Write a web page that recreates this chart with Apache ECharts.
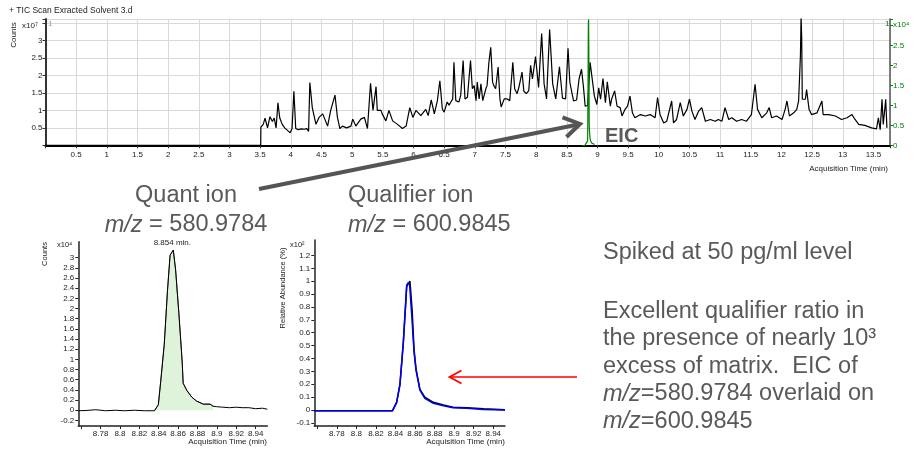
<!DOCTYPE html>
<html><head><meta charset="utf-8">
<script src="https://cdn.jsdelivr.net/npm/echarts@6/dist/echarts.min.js"></script>
<style>html,body{margin:0;padding:0;background:#fff}#c{width:918px;height:452px}</style>
</head><body><div id="c"></div>
<script>
// ---------- DATA ----------
// TIC scan (x10^7 counts) vs acquisition time (min)
const ticPoints = [
  [0,0],[3.509,0],[3.512,0.52],[3.55,0.6],[3.58,0.78],[3.62,0.5],[3.66,0.82],[3.70,0.68],[3.73,0.78],[3.76,0.5],
  [3.79,1.22],[3.82,0.78],[3.86,0.6],[3.90,0.5],[3.95,0.42],[3.99,0.36],[4.02,0.48],[4.05,1.55],[4.08,0.48],[4.12,0.45],
  [4.17,0.47],[4.22,0.46],[4.26,0.48],[4.29,0.4],[4.31,1.8],[4.35,1.08],[4.41,0.6],[4.46,0.8],[4.52,0.9],[4.60,0.55],
  [4.65,1.0],[4.72,1.44],[4.76,0.8],[4.80,0.48],[4.84,0.55],[4.91,0.5],[4.98,0.55],[5.01,0.75],[5.06,0.55],[5.14,0.75],
  [5.20,0.8],[5.25,0.48],[5.30,1.78],[5.34,1.0],[5.39,1.68],[5.41,1.0],[5.47,1.0],[5.49,0.9],[5.55,0.7],[5.60,1.0],
  [5.66,0.7],[5.74,0.6],[5.82,0.48],[5.88,0.55],[5.94,1.08],[5.99,0.8],[6.04,1.0],[6.12,0.85],[6.20,1.03],[6.24,0.85],
  [6.29,1.3],[6.34,0.9],[6.39,1.28],[6.43,1.85],[6.47,1.05],[6.50,0.95],[6.55,1.24],[6.58,1.15],[6.61,1.24],[6.64,1.33],
  [6.66,2.38],[6.69,1.28],[6.72,1.33],[6.74,1.24],[6.77,1.43],[6.81,2.43],[6.84,1.33],[6.88,1.38],[6.93,2.43],[6.96,1.62],
  [6.99,1.71],[7.02,1.28],[7.04,1.81],[7.07,1.33],[7.10,1.76],[7.13,1.28],[7.15,1.26],[7.18,1.62],[7.20,1.71],[7.23,2.38],
  [7.26,2.81],[7.29,1.81],[7.31,1.71],[7.34,1.62],[7.38,2.24],[7.41,1.33],[7.43,1.1],[7.48,1.33],[7.53,1.33],[7.57,1.28],
  [7.62,2.38],[7.65,1.62],[7.69,1.48],[7.72,1.67],[7.77,2.1],[7.80,1.55],[7.84,1.48],[7.88,1.57],[7.91,2.29],[7.94,1.9],
  [7.99,2.54],[8.04,1.66],[8.09,3.2],[8.13,1.76],[8.17,1.33],
  [8.22,3.32],[8.27,1.76],[8.32,1.33],[8.38,2.25],[8.43,1.35],[8.48,1.33],[8.52,2.78],[8.55,1.8],[8.61,1.27],[8.66,1.3],
  [8.70,1.9],[8.74,2.18],[8.77,1.7],[8.80,1.12],[8.84,1.14],[8.88,2.38],[8.91,2.33],[8.95,1.41],[8.99,1.17],[9.02,1.65],
  [9.05,1.32],[9.09,1.91],[9.13,1.22],[9.16,1.82],[9.21,1.12],[9.23,1.32],[9.28,1.56],[9.32,1.12],[9.37,1.08],[9.40,0.84],
  [9.45,1.03],[9.49,1.12],[9.53,1.41],[9.57,0.93],[9.61,0.79],[9.70,0.88],[9.78,0.84],[9.86,0.88],[9.94,0.79],[9.98,1.37],
  [10.02,0.88],[10.08,0.64],[10.13,0.69],[10.21,1.27],[10.24,0.64],[10.29,0.74],[10.35,1.22],[10.40,0.84],[10.46,1.03],[10.50,1.32],
  [10.54,0.98],[10.59,0.74],[10.65,0.98],[10.70,1.08],[10.76,0.69],[10.84,0.74],[10.92,0.69],[10.97,0.74],[11.03,0.69],[11.08,1.08],
  [11.14,0.74],[11.19,0.79],[11.27,0.69],[11.35,0.74],[11.43,0.69],[11.51,0.88],[11.57,1.75],[11.61,1.03],[11.68,0.79],[11.76,0.93],
  [11.80,1.08],[11.84,0.79],[11.92,0.84],[12.01,0.74],[12.06,1.03],[12.09,1.27],[12.13,0.84],[12.20,0.93],[12.25,1.03],[12.28,1.27],
  [12.31,2.6],[12.32,3.7],[12.33,3.1],[12.34,1.32],[12.39,1.32],[12.41,1.6],[12.45,1.03],[12.49,0.88],[12.58,0.93],[12.66,1.27],
  [12.68,0.88],[12.77,0.88],[12.88,0.84],[12.98,0.74],[13.07,0.79],[13.15,0.88],[13.20,0.74],[13.26,0.6],[13.36,0.57],[13.47,0.5],
  [13.55,0.47],[13.58,0.79],[13.61,0.45],[13.64,1.32],[13.66,0.6],[13.70,1.32],[13.72,0.5]
];
// EIC m/z 580.9784 (x10^4 counts)
const eicPoints = [
  [8.757,-0.01],[8.765,-0.005],[8.775,0.01],[8.785,-0.01],[8.795,0.0],[8.805,-0.01],[8.815,0.0],[8.825,-0.01],
  [8.8356,-0.01],[8.8396,0.11],[8.842,0.56],[8.8457,1.3],[8.849,2.35],[8.8517,3.05],[8.855,3.15],[8.8574,2.76],
  [8.8608,1.9],[8.8642,0.95],[8.8652,0.53],[8.869,0.39],[8.874,0.26],[8.879,0.18],[8.886,0.12],[8.893,0.12],
  [8.896,0.08],[8.8995,0.07],[8.906,0.06],[8.913,0.05],[8.92,0.06],[8.926,0.05],[8.933,0.05],[8.94,0.03],[8.947,0.04],[8.952,0.02]
];
const eicFillRange = [8.8356, 8.896];
const peakLabel = '8.854 min.';
const peakPoint = [8.854, 3.15];
// Relative abundance (x10^2 %) overlay
const quantOverlayPoints = [
  [8.757,-0.005],[8.837,-0.005],[8.8412,0.06],[8.8446,0.2],[8.848,0.52],[8.8515,0.96],[8.8535,0.97],[8.8548,1.0],
  [8.857,0.78],[8.859,0.47],[8.861,0.32],[8.865,0.16],[8.87,0.1],[8.8787,0.06],[8.889,0.04],[8.8988,0.022],
  [8.913,0.018],[8.93,0.01],[8.952,0.002]
];
const qualifierPoints = [
  [8.757,-0.005],[8.78,-0.005],[8.80,-0.005],[8.82,-0.005],[8.837,-0.005],[8.8412,0.06],[8.8446,0.2],[8.848,0.52],
  [8.8515,0.97],[8.853,0.99],[8.8545,0.97],[8.8566,0.74],[8.859,0.45],[8.861,0.31],[8.865,0.155],[8.87,0.09],
  [8.8787,0.052],[8.889,0.033],[8.8988,0.018],[8.9128,0.013],[8.9298,0.005],[8.952,0.0]
];
// Tick values
const zoomXTicks = [8.76,8.78,8.8,8.82,8.84,8.86,8.88,8.9,8.92,8.94];
const zoomXLabels = [8.78,8.8,8.82,8.84,8.86,8.88,8.9,8.92,8.94];
const countsYLabels = [-0.2,0,0.2,0.4,0.6,0.8,1,1.2,1.4,1.6,1.8,2,2.2,2.4,2.6,2.8,3];
const relYLabels = [-0.1,0,0.1,0.2,0.3,0.4,0.5,0.6,0.7,0.8,0.9,1,1.1,1.2];

// ---------- CHART ----------
const FONT = "'Liberation Sans', Arial, sans-serif";
const GREY = '#595959';
const chart = echarts.init(document.getElementById('c'), null, {renderer:'canvas'});
const isHalf = v => Math.abs(v*2 - Math.round(v*2)) < 1e-6;
const smallLbl = {fontSize:8, color:'#222', fontFamily:FONT};

function txt(x, y, text, o) {
  o = o || {};
  return {
    type:'text', x:x, y:y, rotation:o.rot||0, z:50, silent:true,
    style:Object.assign({
      text:text, fill:o.fill||'#222', fontSize:o.size||8, fontFamily:FONT,
      fontWeight:o.weight||'normal', fontStyle:o.style||'normal',
      align:o.align||'left', textAlign:o.align||'left',
      verticalAlign:'middle', textVerticalAlign:'middle'
    }, o.rich ? {rich:o.rich} : {})
  };
}
function mz(x, y, rest, size, align) {
  const base = {fontSize:size, fontFamily:FONT, fill:GREY};
  return txt(x, y, '{i|m/z}{n|' + rest + '}', {align:align, size:size, fill:GREY,
    rich:{i:Object.assign({fontStyle:'italic'}, base), n:Object.assign({}, base)}});
}

const bigSize = 23.5;
const graphics = [
  txt(9, 11, '+ TIC Scan Exracted Solvent 3.d', {size:8.5}),
  txt(14, 35, 'Counts', {rot:Math.PI/2, align:'center'}),
  txt(22, 26, 'x10\u2077', {size:8}),
  txt(48, 24, '1', {size:8, fill:'#999'}),
  txt(885, 24, '1', {size:8, fill:'#008000'}),
  txt(893, 25, 'x10\u2074', {size:8, fill:'#008000'}),
  txt(888, 169, 'Acquisition Time (min)', {align:'right'}),
  txt(45, 254, 'Counts', {rot:Math.PI/2, align:'center', size:7.5}),
  txt(57, 245, 'x10\u2074', {size:7.5}),
  txt(267, 442, 'Acquisition Time (min)', {align:'right'}),
  txt(283, 288, 'Relative Abundance (%)', {rot:Math.PI/2, align:'center', size:7.5}),
  txt(290, 245, 'x10\u00b2', {size:7.5}),
  txt(505, 442, 'Acquisition Time (min)', {align:'right'}),
  txt(186, 196, 'Quant ion', {align:'center', size:bigSize, fill:GREY}),
  mz(186, 225, ' = 580.9784', bigSize, 'center'),
  txt(348, 196, 'Qualifier ion', {size:bigSize, fill:GREY}),
  mz(348, 225, ' = 600.9845', bigSize, 'left'),
  txt(603, 253, 'Spiked at 50 pg/ml level', {size:bigSize, fill:GREY}),
  txt(603, 311.5, 'Excellent qualifier ratio in', {size:bigSize, fill:GREY}),
  txt(603, 339, 'the presence of nearly 10\u00b3', {size:bigSize, fill:GREY}),
  txt(603, 366.5, 'excess of matrix.  EIC of', {size:bigSize, fill:GREY}),
  mz(603, 394, '=580.9784 overlaid on', bigSize, 'left'),
  mz(603, 421.5, '=600.9845', bigSize, 'left'),
  txt(605, 136, 'EIC', {size:20, weight:'bold', fill:GREY}),
  // grey arrow
  {type:'line', z:40, silent:true, shape:{x1:259, y1:189, x2:578, y2:124.5},
   style:{stroke:'#555', lineWidth:4, lineCap:'butt'}},
  {type:'polyline', z:40, silent:true, shape:{points:[[562.5,117.4],[580,124],[566.5,137]]},
   style:{stroke:'#555', lineWidth:4, fill:null, lineJoin:'miter'}},
  // red arrow
  {type:'line', z:40, silent:true, shape:{x1:450, y1:377, x2:577, y2:377},
   style:{stroke:'#ff0000', lineWidth:1.6}},
  {type:'polyline', z:40, silent:true, shape:{points:[[461.5,370.5],[449.5,377],[461.5,383.5]]},
   style:{stroke:'#ff0000', lineWidth:1.8, fill:null}}
];

const option = {
  animation:false,
  backgroundColor:'#fff',
  textStyle:{fontFamily:FONT},
  grid:[
    {left:45.5, top:19, width:844.5, height:126.3},
    {left:78.3, top:241.7, width:189, height:184.3},
    {left:314.3, top:240, width:190.7, height:186}
  ],
  xAxis:[
    {gridIndex:0, type:'value', min:0, max:13.77, interval:0.5,
     axisLine:{show:true, onZero:false, lineStyle:{color:'#000', width:2}},
     axisTick:{show:true, length:3, lineStyle:{color:'#333'}},
     axisLabel:Object.assign({margin:5, formatter:v => (v>0 && isHalf(v)) ? String(v) : ''}, smallLbl),
     splitLine:{show:true, lineStyle:{color:'#d9d9d9', width:1}}},
    {gridIndex:1, type:'value', min:8.757, max:8.952,
     axisLine:{show:true, onZero:false, lineStyle:{color:'#222', width:1.5}},
     axisTick:{show:true, length:3, customValues:zoomXTicks, lineStyle:{color:'#222'}},
     axisLabel:Object.assign({margin:4, customValues:zoomXLabels, hideOverlap:false}, smallLbl),
     splitLine:{show:false}},
    {gridIndex:2, type:'value', min:8.757, max:8.952,
     axisLine:{show:true, onZero:false, lineStyle:{color:'#222', width:1.5}},
     axisTick:{show:true, length:3, customValues:zoomXTicks, lineStyle:{color:'#222'}},
     axisLabel:Object.assign({margin:4, customValues:zoomXLabels, hideOverlap:false}, smallLbl),
     splitLine:{show:false}}
  ],
  yAxis:[
    {gridIndex:0, type:'value', position:'left', min:0, max:3.62, interval:0.5,
     axisLine:{show:true, onZero:false, lineStyle:{color:'#333', width:2}},
     axisTick:{show:true, length:3, lineStyle:{color:'#333'}},
     axisLabel:Object.assign({margin:3, formatter:v => (v>0 && v<3.2 && isHalf(v)) ? String(v) : ''}, smallLbl),
     splitLine:{show:true, lineStyle:{color:'#d9d9d9', width:1}}},
    {gridIndex:0, type:'value', position:'right', min:0, max:3.16, interval:0.5,
     axisLine:{show:true, onZero:false, lineStyle:{color:'#555', width:1.5}},
     axisTick:{show:true, length:3, lineStyle:{color:'#008000'}},
     axisLabel:Object.assign({}, smallLbl, {color:'#008000', margin:3, formatter:v => (v<2.9 && isHalf(v)) ? String(v) : ''}),
     splitLine:{show:false}},
    {gridIndex:1, type:'value', min:-0.31, max:3.315,
     axisLine:{show:true, onZero:false, lineStyle:{color:'#222', width:1.5}},
     axisTick:{show:true, length:3, customValues:countsYLabels, lineStyle:{color:'#222'}},
     axisLabel:Object.assign({margin:4, customValues:countsYLabels, hideOverlap:false}, smallLbl),
     splitLine:{show:false}},
    {gridIndex:2, type:'value', min:-0.124, max:1.32,
     axisLine:{show:true, onZero:false, lineStyle:{color:'#222', width:1.5}},
     axisTick:{show:true, length:3, customValues:relYLabels, lineStyle:{color:'#222'}},
     axisLabel:Object.assign({margin:4, customValues:relYLabels, hideOverlap:false}, smallLbl),
     splitLine:{show:false}}
  ],
  series:[
    {type:'line', xAxisIndex:0, yAxisIndex:0, data:ticPoints, symbol:'none', clip:true, z:3,
     lineStyle:{color:'#000', width:1.2}},
    {type:'line', xAxisIndex:0, yAxisIndex:1, data:eicPoints, symbol:'none', clip:true, z:4,
     lineStyle:{color:'#008000', width:1.2}},
    {type:'line', xAxisIndex:1, yAxisIndex:2, symbol:'none', z:2,
     data:eicPoints.filter(p => p[0] >= eicFillRange[0] && p[0] <= eicFillRange[1]),
     lineStyle:{width:0.8, color:'#333'}, areaStyle:{color:'#dff3db', opacity:1}},
    {type:'line', xAxisIndex:1, yAxisIndex:2, data:eicPoints, symbol:'none', z:3,
     lineStyle:{color:'#000', width:1},
     markPoint:{symbol:'circle', symbolSize:0, silent:true,
       data:[{coord:peakPoint}],
       label:{show:true, position:'top', distance:3, formatter:peakLabel, fontSize:8, color:'#222', fontFamily:FONT}}},
    {type:'line', xAxisIndex:2, yAxisIndex:3, data:quantOverlayPoints, symbol:'none', z:3,
     lineStyle:{color:'#000', width:1.5}},
    {type:'line', xAxisIndex:2, yAxisIndex:3, data:qualifierPoints, symbol:'none', z:4,
     lineStyle:{color:'#0000ee', width:1.5}}
  ],
  graphic:graphics
};
chart.setOption(option);
</script></body></html>
